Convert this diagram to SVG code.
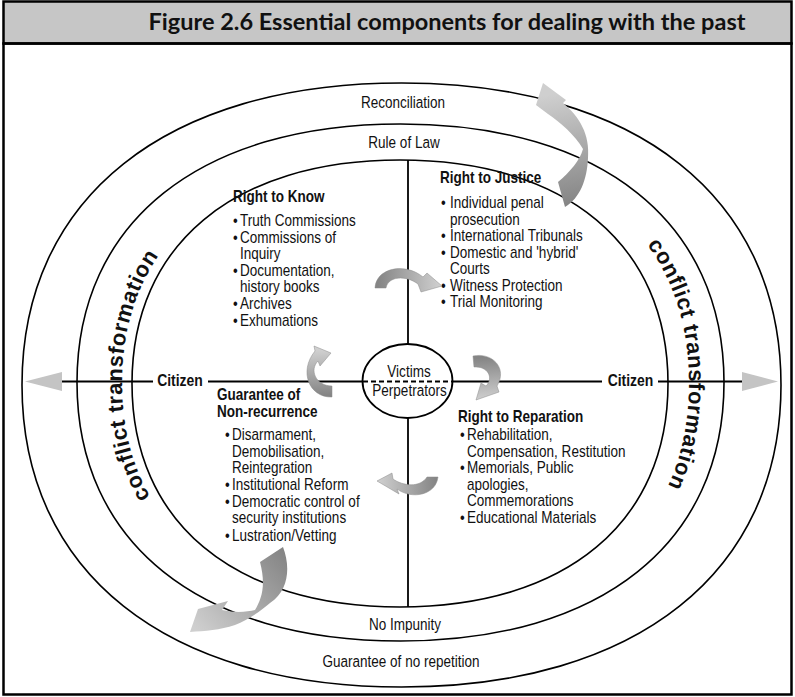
<svg xmlns="http://www.w3.org/2000/svg" width="795" height="697" viewBox="0 0 795 697">
<style>
.ring{fill:none;stroke:#000;stroke-width:1.6}
.ln{stroke:#000;stroke-width:1.8;fill:none}
.t{font-family:"Liberation Sans",Arial,sans-serif;font-size:16px;fill:#111}
.h{font-family:"Liberation Sans",Arial,sans-serif;font-size:16px;font-weight:bold;fill:#111}
.lab{font-family:"Liberation Sans",Arial,sans-serif;font-size:16.5px;fill:#111;text-anchor:middle}
.cz{font-family:"Liberation Sans",Arial,sans-serif;font-size:17px;font-weight:bold;fill:#111;text-anchor:middle}
.ct{font-family:"Liberation Sans",Arial,sans-serif;font-size:22px;font-weight:bold;letter-spacing:0.6px;fill:#111}
.ah{fill:#c4c4c4}
.arr{stroke:#8a8a8a;stroke-width:0.5}
</style>
<defs>
<linearGradient id="gBig1" gradientUnits="userSpaceOnUse" x1="570" y1="205" x2="548" y2="95"><stop offset="0" stop-color="#858585"/><stop offset="1" stop-color="#cfcfcf"/></linearGradient>
<linearGradient id="gBig2" gradientUnits="userSpaceOnUse" x1="282" y1="550" x2="195" y2="628"><stop offset="0" stop-color="#858585"/><stop offset="1" stop-color="#cfcfcf"/></linearGradient>
<linearGradient id="gTop" gradientUnits="userSpaceOnUse" x1="378" y1="285" x2="440" y2="285"><stop offset="0" stop-color="#858585"/><stop offset="1" stop-color="#cfcfcf"/></linearGradient>
<linearGradient id="gRight" gradientUnits="userSpaceOnUse" x1="478" y1="358" x2="480" y2="400"><stop offset="0" stop-color="#858585"/><stop offset="1" stop-color="#cfcfcf"/></linearGradient>
<linearGradient id="gBottom" gradientUnits="userSpaceOnUse" x1="436" y1="480" x2="378" y2="482"><stop offset="0" stop-color="#858585"/><stop offset="1" stop-color="#cfcfcf"/></linearGradient>
<linearGradient id="gLeft" gradientUnits="userSpaceOnUse" x1="330" y1="395" x2="328" y2="350"><stop offset="0" stop-color="#858585"/><stop offset="1" stop-color="#cfcfcf"/></linearGradient>
<path id="ctR" d="M 400 146 C 579.2 146 689 232.3 689 383 C 689 533.7 579.2 620 400 620 C 220.8 620 111 533.7 111 383 C 111 232.3 220.8 146 400 146 Z"/>
<path id="ctL" d="M 400 613 C 227.6 613 122 525.6 122 383 C 122 240.4 227.6 153 400 153 C 572.4 153 678 240.4 678 383 C 678 525.6 572.4 613 400 613 Z"/>
</defs>
<rect x="0" y="0" width="795" height="697" fill="#fff"/>
<g id="title">
<rect x="3.5" y="1.5" width="788" height="42" fill="#c6c6c6" stroke="#000" stroke-width="2.5"/>
<text x="447" y="30" font-family="Lato,'Open Sans','Liberation Sans',sans-serif" font-size="23" font-weight="bold" text-anchor="middle" textLength="597" lengthAdjust="spacingAndGlyphs" fill="#111">Figure 2.6 Essential components for dealing with the past</text>
</g>
<rect x="3.5" y="43.5" width="788" height="651" fill="none" stroke="#000" stroke-width="2.5"/>
<g id="rings">
<path id="outer" class="ring" d="M 781 385 C 781 572.2 636.8 687 401.5 687 C 166.2 687 22 572.2 22 385 C 22 197.8 166.2 83 401.5 83 C 636.8 83 781 197.8 781 385 Z"/>
<path id="middle" class="ring" d="M 724 382.5 C 724 542.8 601.1 641 400.5 641 C 199.9 641 77 542.8 77 382.5 C 77 222.2 199.9 124 400.5 124 C 601.1 124 724 222.2 724 382.5 Z"/>
<path id="inner" class="ring" d="M 668 383.5 C 668 522.1 566.2 607 400 607 C 233.8 607 132 522.1 132 383.5 C 132 244.9 233.8 160 400 160 C 566.2 160 668 244.9 668 383.5 Z"/>
</g>
<g id="connectors">
<line class="ln" x1="408" y1="160" x2="408" y2="344"/>
<line class="ln" x1="408" y1="418" x2="408" y2="607"/>
<line class="ln" x1="62" y1="381.5" x2="153" y2="381.5"/>
<line class="ln" x1="208" y1="381.5" x2="363" y2="381.5"/>
<line class="ln" x1="363" y1="381.5" x2="452" y2="381.5" stroke-dasharray="5 3"/>
<line class="ln" x1="452" y1="381.5" x2="602" y2="381.5"/>
<line class="ln" x1="658" y1="381.5" x2="742" y2="381.5"/>
<polygon class="ah" points="25,381.5 62,372 62,391"/>
<polygon class="ah" points="778,381.5 742,372 742,391"/>
</g>
<g id="ring-labels">
<text class="lab" transform="translate(403 107.5) scale(0.82 1)">Reconciliation</text>
<text class="lab" transform="translate(404 147.5) scale(0.82 1)">Rule of Law</text>
<text class="lab" transform="translate(405 630) scale(0.82 1)">No Impunity</text>
<text class="lab" transform="translate(401 667) scale(0.82 1)">Guarantee of no repetition</text>
<text class="ct"><textPath href="#ctL" startOffset="25.5%" text-anchor="middle">conflict transformation</textPath></text>
<text class="ct"><textPath href="#ctR" startOffset="23.8%" text-anchor="middle">conflict transformation</textPath></text>
<text class="cz" transform="translate(180 386) scale(0.82 1)">Citizen</text>
<text class="cz" transform="translate(630.5 386) scale(0.82 1)">Citizen</text>
</g>
<g id="center">
<ellipse cx="407.5" cy="381" rx="45" ry="37" fill="none" stroke="#000" stroke-width="1.8"/>
<text class="lab" transform="translate(409 377) scale(0.82 1)">Victims</text>
<text class="lab" transform="translate(409.5 396) scale(0.82 1)">Perpetrators</text>
</g>
<g id="right-to-know" transform="translate(233 0) scale(0.845 1)">
<text class="h" x="0" y="202">Right to Know</text>
<text class="t" x="0" y="226">•</text><text class="t" x="8.3" y="226">Truth Commissions</text>
<text class="t" x="0" y="242.7">•</text><text class="t" x="8.3" y="242.7">Commissions of</text>
<text class="t" x="8.3" y="259.3">Inquiry</text>
<text class="t" x="0" y="276">•</text><text class="t" x="8.3" y="276">Documentation,</text>
<text class="t" x="8.3" y="292.5">history books</text>
<text class="t" x="0" y="309.3">•</text><text class="t" x="8.3" y="309.3">Archives</text>
<text class="t" x="0" y="326">•</text><text class="t" x="8.3" y="326">Exhumations</text>
</g>
<g id="right-to-justice" transform="translate(440 0) scale(0.845 1)">
<text class="h" x="0" y="183">Right to Justice</text>
<text class="t" x="1.2" y="208.3">•</text><text class="t" x="11.8" y="208.3">Individual penal</text>
<text class="t" x="11.8" y="224.6">prosecution</text>
<text class="t" x="1.2" y="241.5">•</text><text class="t" x="11.8" y="241.5">International Tribunals</text>
<text class="t" x="1.2" y="258.2">•</text><text class="t" x="11.8" y="258.2">Domestic and 'hybrid'</text>
<text class="t" x="11.8" y="274.5">Courts</text>
<text class="t" x="1.2" y="290.8">•</text><text class="t" x="11.8" y="290.8">Witness Protection</text>
<text class="t" x="1.2" y="307.2">•</text><text class="t" x="11.8" y="307.2">Trial Monitoring</text>
</g>
<g id="non-recurrence" transform="translate(217 0) scale(0.845 1)">
<text class="h" x="0" y="400">Guarantee of</text>
<text class="h" x="0" y="416.7">Non-recurrence</text>
<text class="t" x="9.5" y="440">•</text><text class="t" x="17.8" y="440">Disarmament,</text>
<text class="t" x="17.8" y="456.7">Demobilisation,</text>
<text class="t" x="17.8" y="473.3">Reintegration</text>
<text class="t" x="9.5" y="490">•</text><text class="t" x="17.8" y="490">Institutional Reform</text>
<text class="t" x="9.5" y="506.7">•</text><text class="t" x="17.8" y="506.7">Democratic control of</text>
<text class="t" x="17.8" y="523.3">security institutions</text>
<text class="t" x="9.5" y="540.7">•</text><text class="t" x="17.8" y="540.7">Lustration/Vetting</text>
</g>
<g id="right-to-reparation" transform="translate(458 0) scale(0.845 1)">
<text class="h" x="0" y="421.7">Right to Reparation</text>
<text class="t" x="2.4" y="440">•</text><text class="t" x="10.7" y="440">Rehabilitation,</text>
<text class="t" x="10.7" y="457">Compensation, Restitution</text>
<text class="t" x="2.4" y="473.4">•</text><text class="t" x="10.7" y="473.4">Memorials, Public</text>
<text class="t" x="10.7" y="489.8">apologies,</text>
<text class="t" x="10.7" y="506.5">Commemorations</text>
<text class="t" x="2.4" y="523.3">•</text><text class="t" x="10.7" y="523.3">Educational Materials</text>
</g>
<g id="arrows">
<path id="big-arrow-top" fill="url(#gBig1)" d="M 543 83 L 566 100 L 563 103 C 580 117 590 135 588 158 C 587 180 580 198 565 207 L 558 182 C 570 172 580 160 583 149 C 575 135 560 122 548 114 L 536 105 Z"/>
<path id="big-arrow-bottom" fill="url(#gBig2)" d="M 190 632 L 198 609 L 228 601 L 222 610 C 235 613 247 612 255 610 C 262 598 266 585 260 562 L 283 547 C 290 565 290 590 270 603 C 262 610 248 620 235 625 C 220 630 205 631 190 632 Z"/>
<path id="arrow-top" class="arr" fill="url(#gTop)" d="M 375 288 C 376 268 405 262 423 277 L 427 273 L 442 286 L 421 292 L 418 284 C 406 275 388 276 386 288 Z"/>
<path id="arrow-right" class="arr" fill="url(#gRight)" d="M 473 356 C 492 352 508 368 497 386 L 499 392 L 476 400 L 481 383 L 486 386 C 494 378 488 366 474 367 Z"/>
<path id="arrow-bottom" class="arr" fill="url(#gBottom)" d="M 438 477 C 436 495 412 500 397 489 L 399 494 L 377 481 L 392 473 L 393 479 C 403 486 420 488 427 477 Z"/>
<path id="arrow-left" class="arr" fill="url(#gLeft)" d="M 332 397 C 310 398 298 372 315 351 L 314 346 L 331 353 L 320 366 L 318 361 C 309 370 316 386 332 386 Z"/>
</g>
</svg>
